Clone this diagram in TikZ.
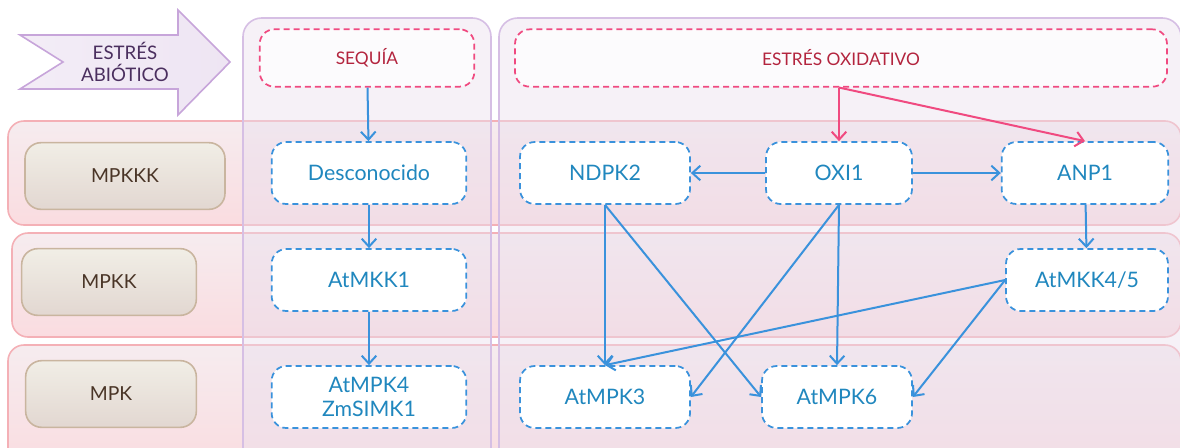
\documentclass[tikz,border=0pt]{standalone}
\usepackage{fontspec}
\setmainfont{Lato}
\usetikzlibrary{arrows.meta,positioning}

\definecolor{geneblue}{HTML}{3A92DC}
\definecolor{genetext}{HTML}{2087BE}
\definecolor{stresspink}{HTML}{F04A80}
\definecolor{stresstext}{HTML}{B3243E}
\definecolor{rowtop}{HTML}{F6ECEF}
\definecolor{rowfill}{HTML}{FADCE0}
\definecolor{rowline}{HTML}{F4B0B6}
\definecolor{colfill}{HTML}{EADFEE}
\definecolor{colline}{HTML}{D6BFE4}
\definecolor{tagtop}{HTML}{F1EEE6}
\definecolor{tagbot}{HTML}{E2D7D1}
\definecolor{tagline}{HTML}{C9B59F}
\definecolor{tagtext}{HTML}{4A3527}
\definecolor{arrowfill}{HTML}{EEE5F3}
\definecolor{arrowline}{HTML}{C7A5DA}
\definecolor{arrowtext}{HTML}{4B2F5F}

\begin{document}
\begin{tikzpicture}[x=0.75pt, y=-0.75pt,
	band/.style={draw=rowline, line width=1.2pt, rounded corners=12pt,
		top color=rowtop, bottom color=rowfill},
	panel/.style={draw=colline, line width=1.2pt, rounded corners=14pt,
		fill=colfill, fill opacity=0.45},
	tag/.style={draw=tagline, line width=1.2pt, rounded corners=12pt,
		top color=tagtop, bottom color=tagbot, text=tagtext,
		minimum height=50pt, font=\fontsize{14.5}{16}\selectfont},
	gene/.style={draw=geneblue, dash pattern=on 4.5pt off 3pt, line width=1.3pt,
		rounded corners=11pt, fill=white, text=genetext, align=center,
		minimum height=46.5pt, font=\fontsize{16}{18}\selectfont},
	stress/.style={draw=stresspink, dash pattern=on 4.5pt off 3pt, line width=1.3pt,
		rounded corners=11pt, fill=white, fill opacity=0.8, text opacity=1,
		text=stresstext, minimum height=43pt, font=\fontsize{13}{15}\selectfont},
	link/.style={draw=geneblue, line width=1.5pt,
		-{Straight Barb[length=6pt, width=11pt]}},
	pinklink/.style={link, draw=stresspink}
	]

	\useasboundingbox (0,0) rectangle (1180,447);

	% rows
	\draw[band] (8,121) rectangle (1181,225);
	\draw[band] (12,233) rectangle (1181,337);
	\draw[band] (8,345) rectangle (1181,470);

	% columns
	\draw[panel] (243,18) rectangle (491,480);
	\draw[panel] (499,18) rectangle (1181,480);

	% abiotic stress arrow
	\draw[draw=arrowline, line width=1.2pt, left color=arrowfill!70!white, right color=arrowfill]
		(20,35) -- (178,35) -- (178,10) -- (230,62) -- (178,115)
		-- (178,89) -- (20,89) -- (63,62) -- cycle;
	\node[text=arrowtext, align=center, font=\fontsize{14}{17}\selectfont]
		(abio) at (125,62) {ESTRÉS\\ABIÓTICO};

	% levels
	\node[tag, minimum width=150pt] (mpkkk) at (125,176) {MPKKK};
	\node[tag, minimum width=131pt] (mpkk) at (109,282) {MPKK};
	\node[tag, minimum width=128pt] (mpk) at (111,394) {MPK};

	% stresses
	\node[stress, minimum width=161pt] (sequia) at (367,58) {SEQUÍA};
	\node[stress, minimum width=489pt] (oxid) at (841,58) {ESTRÉS OXIDATIVO};

	% drought branch
	\node[gene, minimum width=146pt] (desc) at (369,173) {Desconocido};
	\node[gene, minimum width=146pt] (mkk1) at (369,280) {AtMKK1};
	\node[gene, minimum width=146pt] (mpk4) at (369,397) {AtMPK4\\ZmSIMK1};

	% oxidative branch
	\node[gene, minimum width=127.5pt] (ndpk) at (605,173) {NDPK2};
	\node[gene, minimum width=109.5pt] (oxi) at (839,173) {OXI1};
	\node[gene, minimum width=125pt] (anp) at (1085,173) {ANP1};
	\node[gene, minimum width=121.5pt] (mkk45) at (1087,280) {AtMKK4/5};
	\node[gene, minimum width=127.5pt] (mpk3) at (605,397) {AtMPK3};
	\node[gene, minimum width=112.5pt] (mpk6) at (837,397) {AtMPK6};

	\coordinate (split) at (oxi.north |- oxid.south);

	\draw[link] (sequia) -- (desc);
	\draw[link] (desc) -- (mkk1);
	\draw[link] (mkk1) -- (mpk4);

	\draw[pinklink] (split) -- (oxi);
	\draw[pinklink] (split) -- (anp.north);

	\draw[link] (oxi) -- (ndpk);
	\draw[link] (oxi) -- (anp);
	\draw[link] (anp) -- (mkk45);
	\draw[link] (ndpk.south) -- (mpk3.north);
	\draw[link] (ndpk.south) -- (mpk6.west);
	\draw[link] (oxi.south) -- (mpk6.north);
	\draw[link] (oxi.south) -- (mpk3.east);
	\draw[link] (mkk45.west) -- (mpk3.north);
	\draw[link] (mkk45.west) -- (mpk6.east);

\end{tikzpicture}
\end{document}
